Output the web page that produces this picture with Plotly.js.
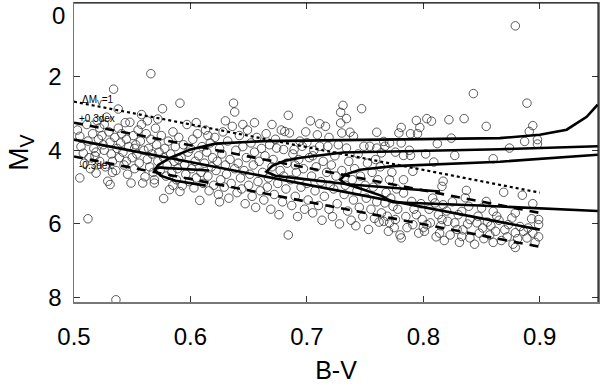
<!DOCTYPE html>
<html>
<head>
<meta charset="utf-8">
<script src="https://cdn.plot.ly/plotly-3.0.1.min.js"></script>
<style>html,body{margin:0;padding:0;background:#fff;}#chart{width:600px;height:389px;}</style>
</head>
<body>
<div id="chart"></div>
<script>
// Observed stars (B-V, M_V)
const starBV = [
0.503,0.505,0.506,0.508,0.509,0.505,0.511,0.512,0.513,0.514,0.512,0.516,0.517,0.518,0.519,0.520,0.521,0.522,0.522,0.519,
0.524,0.525,0.526,0.527,0.528,0.529,0.531,0.530,0.531,0.532,0.533,0.534,0.535,0.536,0.536,0.537,0.538,0.538,0.539,0.540,0.533,0.526,
0.541,0.542,0.543,0.544,0.545,0.546,0.547,0.548,0.549,0.550,0.551,0.552,0.553,0.554,0.555,0.556,0.557,0.558,0.558,0.559,0.560,0.545,0.552,
0.561,0.562,0.563,0.564,0.565,0.566,0.566,0.567,0.568,0.569,0.569,0.570,0.571,0.572,0.573,0.574,0.575,0.576,0.577,0.577,0.578,0.579,0.580,0.563,0.572,
0.581,0.582,0.583,0.584,0.585,0.586,0.587,0.588,0.589,0.590,0.591,0.591,0.592,0.593,0.594,0.595,0.596,0.597,0.598,0.599,0.600,0.585,0.590,
0.601,0.602,0.603,0.604,0.605,0.606,0.607,0.608,0.609,0.610,0.611,0.612,0.613,0.614,0.615,0.616,0.617,0.618,0.619,0.620,0.605,0.615,
0.621,0.622,0.623,0.624,0.625,0.626,0.627,0.628,0.629,0.630,0.631,0.632,0.633,0.634,0.635,0.636,0.637,0.638,0.638,0.639,0.640,0.630,0.625,
0.641,0.642,0.643,0.644,0.645,0.646,0.647,0.648,0.649,0.650,0.651,0.652,0.653,0.654,0.655,0.656,0.657,0.658,0.659,0.660,0.645,0.655,
0.661,0.662,0.663,0.664,0.665,0.666,0.667,0.668,0.669,0.670,0.671,0.672,0.673,0.674,0.675,0.676,0.677,0.678,0.679,0.680,0.680,0.670,
0.681,0.682,0.683,0.684,0.684,0.685,0.686,0.687,0.688,0.689,0.690,0.691,0.692,0.693,0.694,0.695,0.696,0.697,0.698,0.699,0.700,0.700,0.690,
0.701,0.702,0.703,0.704,0.705,0.706,0.707,0.708,0.709,0.710,0.711,0.711,0.712,0.713,0.714,0.715,0.716,0.717,0.718,0.719,0.719,0.720,0.705,
0.721,0.722,0.723,0.724,0.725,0.726,0.727,0.728,0.729,0.729,0.730,0.730,0.731,0.732,0.733,0.734,0.734,0.735,0.736,0.737,0.738,0.739,0.740,0.740,
0.741,0.742,0.743,0.744,0.745,0.746,0.747,0.748,0.749,0.750,0.751,0.752,0.753,0.754,0.755,0.756,0.757,0.758,0.759,0.760,0.760,0.760,
0.761,0.762,0.763,0.764,0.764,0.766,0.766,0.767,0.767,0.768,0.769,0.770,0.771,0.771,0.771,0.772,0.773,0.774,0.775,0.776,0.776,0.777,0.778,0.779,0.780,
0.781,0.781,0.781,0.783,0.783,0.783,0.785,0.786,0.788,0.789,0.789,0.790,0.791,0.791,0.792,0.794,0.794,0.795,0.796,0.797,0.798,0.799,0.800,
0.801,0.802,0.803,0.803,0.805,0.806,0.807,0.808,0.809,0.810,0.811,0.812,0.813,0.814,0.815,0.816,0.816,0.817,0.817,0.818,0.820,
0.821,0.822,0.823,0.824,0.825,0.827,0.827,0.829,0.830,0.831,0.833,0.833,0.834,0.835,0.836,0.837,0.838,0.839,0.840,0.840,
0.843,0.844,0.846,0.847,0.848,0.850,0.851,0.852,0.854,0.854,0.855,0.857,0.858,0.860,0.860,0.860,
0.862,0.863,0.865,0.867,0.869,0.870,0.872,0.873,0.874,0.876,0.877,0.879,0.879,0.879,0.879,0.881,0.883,0.885,0.886,0.887,0.889,0.889,0.890,0.891,0.893,0.894,0.894,0.894,0.898,0.898,0.899,0.899,0.899,0.896
];
const starMV = [
3.45,3.62,3.90,4.08,4.35,4.75,3.30,3.75,4.20,4.50,5.86,3.55,3.95,4.15,4.62,3.20,3.70,3.39,4.30,4.05,
3.60,3.85,4.00,4.45,3.10,4.84,4.93,3.50,3.78,4.10,4.30,2.34,3.65,4.55,8.06,3.95,2.88,3.40,4.20,3.80,4.60,3.30,
3.55,4.05,4.40,3.25,3.70,4.65,3.90,3.24,4.89,4.20,3.60,4.50,3.85,4.10,3.45,4.35,3.75,3.03,3.30,4.89,4.00,4.30,3.95,
4.72,3.55,4.25,3.95,4.45,1.92,3.70,4.10,4.60,4.80,4.89,3.40,3.85,4.30,4.05,4.55,3.60,2.87,5.31,4.20,3.95,4.70,4.40,3.20,3.15,
3.75,5.07,4.10,4.60,3.50,4.30,3.90,4.80,4.50,3.65,2.72,5.12,4.20,4.96,3.85,4.40,4.65,3.30,4.05,4.85,3.95,4.95,4.25,
4.50,3.70,5.02,4.30,4.75,3.55,4.15,5.36,4.60,3.90,4.90,4.35,3.45,4.05,4.70,5.10,3.80,4.45,4.20,4.95,3.25,3.60,
3.65,4.55,4.30,5.20,3.95,4.80,4.10,3.50,5.00,4.40,4.65,3.75,5.30,4.25,4.90,3.35,2.72,2.96,4.50,4.00,5.15,3.20,5.40,
4.35,3.60,4.75,5.05,3.90,4.55,5.45,4.20,3.45,4.95,4.65,3.80,5.25,4.40,4.05,5.55,3.65,4.85,4.30,5.10,3.30,3.25,
3.95,4.60,5.35,4.15,3.55,5.00,4.75,3.85,5.60,4.45,4.25,5.20,3.70,3.94,4.90,5.75,4.55,3.45,5.40,3.98,4.70,3.30,
3.49,5.05,4.35,3.05,6.30,3.53,4.80,5.50,4.10,3.98,5.25,4.60,5.80,4.25,3.75,5.00,3.89,4.50,5.60,3.50,4.90,3.79,4.40,
5.35,4.20,3.20,4.70,5.70,4.00,5.10,4.45,3.58,5.50,3.28,3.89,4.85,5.90,4.30,5.25,3.35,4.60,3.89,3.65,5.60,4.95,4.15,
4.40,5.80,5.05,4.15,4.70,5.45,3.85,6.00,2.97,3.26,3.53,4.55,2.78,5.20,4.95,3.14,3.94,5.65,4.30,3.51,5.90,4.80,3.62,5.35,
4.50,6.05,5.10,4.10,5.55,4.70,2.87,5.80,3.89,4.95,5.30,4.35,6.15,3.89,5.60,4.60,5.00,5.85,4.25,3.51,3.94,5.40,
4.80,5.95,4.45,4.07,5.70,3.76,5.93,3.89,5.43,5.15,5.79,6.20,3.80,4.80,5.97,5.30,4.60,5.52,6.10,4.05,5.88,5.05,5.60,3.53,6.30,
3.38,3.80,6.38,4.14,4.80,5.16,5.80,6.10,4.00,3.55,4.14,5.39,4.57,6.02,5.60,3.19,5.75,3.55,6.25,3.38,5.45,5.88,6.10,
6.20,4.10,3.14,6.02,5.60,5.97,3.21,5.30,4.32,5.43,6.35,3.82,5.75,6.25,6.05,4.98,5.88,4.84,5.48,6.45,5.65,
5.93,3.17,6.30,3.67,5.40,4.14,5.97,6.15,5.75,6.50,5.66,6.34,6.16,3.14,5.29,5.09,6.00,5.52,5.88,6.38,
2.46,6.55,5.97,5.79,6.25,5.57,6.11,6.40,3.35,5.39,5.95,6.30,6.05,4.23,5.66,6.50,
6.20,5.79,5.90,6.45,5.14,6.16,6.35,6.02,3.94,5.84,6.55,0.62,5.70,6.24,6.64,6.40,6.07,5.22,6.20,3.76,2.72,6.38,6.11,3.49,5.86,3.33,5.45,6.25,3.71,3.83,5.88,6.02,6.35,6.50
];

// Reference main sequence and offsets
const msBV = [0.50, 0.90];
const msMV = [3.71, 6.155];
const dotMV = [2.68, 5.15];      // Delta M_V = 1
const plusMV = [3.25, 5.70];     // +0.3 dex
const minusMV = [4.17, 6.62];    // -0.3 dex

// Model curves
const trkA_BV = [0.6131,0.5872,0.5743,0.5692,0.5726,0.5829,0.6000,0.6215,0.6626,0.780,0.8657,0.900,0.9231,0.9403,0.9497];
const trkA_MV = [4.96,4.825,4.69,4.53,4.39,4.20,3.98,3.82,3.75,3.71,3.67,3.58,3.44,3.09,2.76];
const trkA2_BV = [0.6160,0.5900,0.5740,0.5700];
const trkA2_MV = [4.55,4.50,4.47,4.50];
const trkB_BV = [0.8143,0.780,0.7372,0.6943,0.6729,0.6652,0.6703,0.6815,0.6943,0.7312,0.7741,0.8658,0.9498];
const trkB_MV = [5.12,5.04,4.93,4.77,4.69,4.58,4.42,4.28,4.20,4.06,4.03,3.97,3.89];
const trkC_BV = [0.9498,0.8486,0.774,0.7637,0.7457,0.7329,0.7286,0.7329,0.7457,0.774,0.8658,0.9498];
const trkC_MV = [5.65,5.50,5.41,5.23,5.04,4.91,4.80,4.66,4.53,4.43,4.31,4.12];

const labels = ['ΔM<sub>V</sub>=1', '+0.3dex', '-0.3dex'];
const labelBV = [0.505, 0.503, 0.503];
const labelMV = [2.63, 3.13, 4.40];

const yTickVals = [2, 4, 6, 8];
const topTickLabel = '0';

const solid = {color:'#000', width:2.6};
const traces = [
  {x: starBV, y: starMV, mode:'markers', type:'scatter',
   marker:{symbol:'circle-open', size:8.5, color:'#333', line:{width:0.8}}},
  {x: msBV, y: dotMV, mode:'lines', line:{color:'#000', width:2.2, dash:'dot'}},
  {x: msBV, y: plusMV, mode:'lines', line:{color:'#000', width:2.6, dash:'9px,7px'}},
  {x: msBV, y: minusMV, mode:'lines', line:{color:'#000', width:2.6, dash:'9px,7px'}},
  {x: msBV, y: msMV, mode:'lines', line:solid},
  {x: trkA_BV, y: trkA_MV, mode:'lines', line:solid},
  {x: trkA2_BV, y: trkA2_MV, mode:'lines', line:solid},
  {x: trkB_BV, y: trkB_MV, mode:'lines', line:solid},
  {x: trkC_BV, y: trkC_MV, mode:'lines', line:solid}
];

const font = 'Liberation Sans, Arial, Helvetica, sans-serif';
const annotations = labels.map((t, i) => ({
  x: labelBV[i], y: labelMV[i], xref:'x', yref:'y', text:t, showarrow:false,
  xanchor:'left', yanchor:'middle', font:{family:font, size:10, color:'#000'}
}));
annotations.push({x:0, y:1, xref:'paper', yref:'paper', text:topTickLabel, showarrow:false,
  xanchor:'right', yanchor:'top', xshift:-7, yshift:3, font:{family:font, size:24, color:'#000'}});

const layout = {
  width:600, height:389,
  margin:{l:74, r:2, t:3, b:87},
  showlegend:false,
  paper_bgcolor:'#fff', plot_bgcolor:'#fff',
  font:{family:font, color:'#000'},
  annotations: annotations,
  xaxis:{range:[0.5,0.95], tickvals:[0.5,0.6,0.7,0.8,0.9], ticktext:['0.5','0.6','0.7','0.8','0.9'],
    ticks:'inside', ticklen:6, tickwidth:1, tickcolor:'#333', mirror:'ticks',
    showline:true, linecolor:'#777', linewidth:1.5, showgrid:false, zeroline:false,
    tickfont:{size:24}, ticklabelstandoff:13,
    title:{text:'B-V', font:{size:25}, standoff:12}},
  yaxis:{range:[8.12,0], tickvals:yTickVals, ticks:'inside', ticklen:6, tickwidth:1, tickcolor:'#333', mirror:'ticks',
    showline:true, linecolor:'#777', linewidth:1.5, showgrid:false, zeroline:false,
    tickfont:{size:24}, ticklabelstandoff:6,
    title:{text:'M<sub>V</sub>', font:{size:28}, standoff:11}},
  shapes:[
    {type:'line', xref:'paper', yref:'paper', x0:0, x1:1, y0:1, y1:1, line:{color:'#000', width:1}},
    {type:'line', xref:'paper', yref:'paper', x0:1, x1:1, y0:0, y1:1, line:{color:'#000', width:1}}
  ]
};

Plotly.newPlot('chart', traces, layout, {displayModeBar:false, staticPlot:true});
</script>
</body>
</html>
